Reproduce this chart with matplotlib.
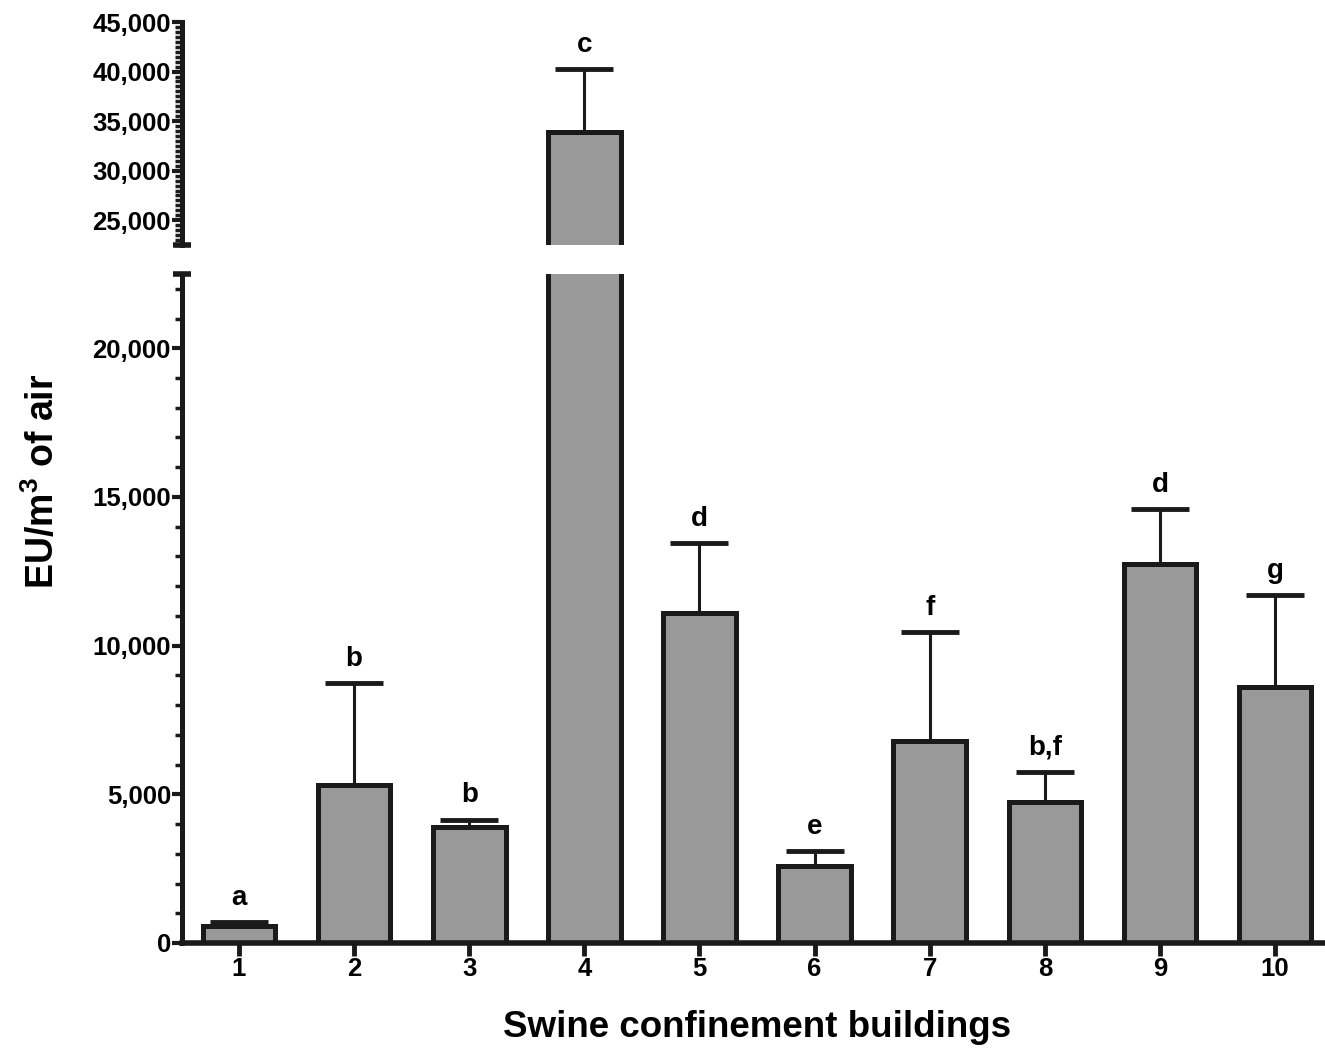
import numpy as np
import matplotlib.pyplot as plt

plt.rcParams['font.family'] = ['Liberation Sans', 'DejaVu Sans']
plt.rcParams['font.weight'] = 'bold'
plt.rcParams['mathtext.fontset'] = 'custom'
plt.rcParams['mathtext.rm'] = 'Liberation Sans:bold'
plt.rcParams['mathtext.bf'] = 'Liberation Sans:bold'

# data
buildings = [1, 2, 3, 4, 5, 6, 7, 8, 9, 10]
means = [580, 5300, 3900, 33900, 11100, 2600, 6800, 4750, 12750, 8600]
sem = [110, 3450, 250, 6350, 2350, 500, 3650, 1000, 1850, 3100]
letters = ['a', 'b', 'b', 'c', 'd', 'e', 'f', 'b,f', 'd', 'g']

break_at = 22500
ink = '#1a1a1a'

fig = plt.figure(figsize=(13.25, 10.48), dpi=100)
ax_lo = fig.add_axes([0.1374, 0.1002, 0.8626, 0.6384])
ax_hi = fig.add_axes([0.1374, 0.7662, 0.8626, 0.2128])

x = np.array(buildings)
for ax in (ax_lo, ax_hi):
    ax.errorbar(x, means, yerr=[np.zeros(len(sem)), sem], fmt='none',
                ecolor=ink, elinewidth=2.2, capsize=21, capthick=3.5, zorder=1)
    ax.bar(x, means, width=0.63, color='#999999', edgecolor=ink,
           linewidth=3.6, zorder=2)
    ax.set_xlim(0.505, 10.434)
    for s in ('top', 'right'):
        ax.spines[s].set_visible(False)
    ax.spines['left'].set_linewidth(3.6)
    ax.spines['left'].set_color(ink)
    ax.tick_params(axis='y', which='major', length=7, width=3, color=ink,
                   labelsize=18.5, pad=1)
    ax.tick_params(axis='y', which='minor', length=5, width=2.5, color=ink)
    ax.yaxis.set_major_formatter(plt.FuncFormatter(lambda v, p: f'{v:,.0f}'))

ax_lo.set_ylim(0, break_at)
ax_lo.set_yticks(np.arange(0, 20001, 5000))
ax_lo.set_yticks(np.arange(0, break_at + 1, 1000), minor=True)
ax_lo.spines['bottom'].set_linewidth(4)
ax_lo.spines['bottom'].set_color(ink)
ax_lo.set_xticks(x)
ax_lo.set_xticklabels([str(b) for b in buildings])
ax_lo.tick_params(axis='x', length=9, width=3.5, color=ink, labelsize=18.5, pad=1)

ax_hi.set_ylim(break_at, 45000)
ax_hi.set_yticks(np.arange(25000, 45001, 5000))
ax_hi.set_yticks(np.arange(break_at, 45001, 500), minor=True)
ax_hi.spines['bottom'].set_visible(False)
ax_hi.set_xticks([])

# caps at the axis break
ax_lo.plot([-0.008, 0.008], [1, 1], transform=ax_lo.transAxes, color=ink,
           lw=4, clip_on=False, solid_capstyle='butt')
ax_hi.plot([-0.008, 0.008], [0, 0], transform=ax_hi.transAxes, color=ink,
           lw=4, clip_on=False, solid_capstyle='butt')

for xi, m, e, lab in zip(x, means, sem, letters):
    ax = ax_hi if m + e > break_at else ax_lo
    ax.annotate(lab, (xi, m + e), xytext=(0, 8), textcoords='offset points',
                ha='center', va='bottom', fontsize=20, fontweight='bold')

fig.text(0.032, 0.541, 'EU/m$^3$ of air', rotation=90, ha='center',
         va='center', fontsize=27, fontweight='bold')
fig.text(0.571, 0.02, 'Swine confinement buildings', ha='center',
         va='center', fontsize=26.5, fontweight='bold')

fig.savefig('out.png', dpi=100)
